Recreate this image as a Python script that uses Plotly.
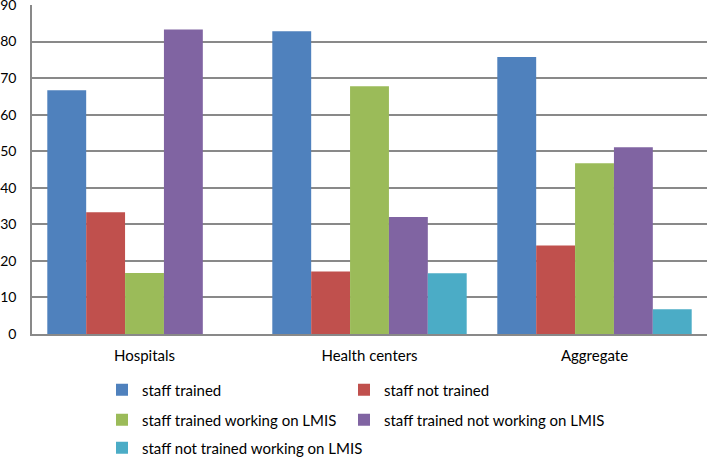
import plotly.graph_objects as go

categories = ["Hospitals", "Health centers", "Aggregate"]
series_names = [
    "staff trained",
    "staff not trained",
    "staff trained working on LMIS",
    "staff trained not working on LMIS",
    "staff not trained working on LMIS",
]
staff_trained = [66.7, 82.8, 75.8]
staff_not_trained = [33.3, 17.1, 24.2]
trained_working = [16.7, 67.8, 46.7]
trained_not_working = [83.3, 32.0, 51.1]
not_trained_working = [0, 16.6, 6.8]
y_ticks = [0, 10, 20, 30, 40, 50, 60, 70, 80, 90]

colors = ["#4F81BD", "#C0504D", "#9BBB59", "#8064A2", "#4BACC6"]
values = [staff_trained, staff_not_trained, trained_working, trained_not_working, not_trained_working]
legend_ids = ["legend", "legend2", "legend3", "legend4", "legend5"]
# legend grid positions (left x, middle y) in container pixels
legend_pos = [(102, 390), (344, 390), (102, 420), (344, 420), (102, 448)]

FONT = "Lato, Liberation Sans, sans-serif"
W, H = 709, 458

fig = go.Figure()
for name, vals, col, lg in zip(series_names, values, colors, legend_ids):
    fig.add_trace(go.Bar(
        x=categories, y=vals, name=name, marker_color=col,
        marker_line_width=0, legend=lg, showlegend=True,
    ))

legends = {}
for lg, (px, py) in zip(legend_ids, legend_pos):
    legends[lg] = dict(
        orientation="h", xref="container", yref="container",
        xanchor="left", yanchor="middle",
        x=px / W, y=1 - py / H,
        font=dict(family=FONT, size=15, color="#000000"),
        bgcolor="rgba(0,0,0,0)", itemclick=False,
    )

fig.update_layout(
    width=W, height=H, showlegend=True,
    margin=dict(l=32, r=2, t=5, b=124, autoexpand=False),
    paper_bgcolor="white", plot_bgcolor="white",
    barmode="group", bargap=0.136, bargroupgap=0,
    font=dict(family=FONT, size=15, color="#000000"),
    xaxis=dict(
        showline=True, linecolor="#898989", linewidth=1.5,
        showgrid=False, ticks="", ticklabelstandoff=7, automargin=False,
        tickfont=dict(family=FONT, size=15, color="#000000"),
    ),
    yaxis=dict(
        range=[0, 90], tickvals=y_ticks,
        showline=True, linecolor="#898989", linewidth=1.5,
        showgrid=True, gridcolor="#898989", gridwidth=1.5,
        zeroline=False, ticks="", ticklabelstandoff=11, automargin=False,
        ticklabeloverflow="allow",
        tickfont=dict(family=FONT, size=14, color="#000000"),
    ),
    **legends,
)

fig.write_html(
    "out.html",
    config={"displayModeBar": False},
    post_script="document.body.style.margin='0';",
)
